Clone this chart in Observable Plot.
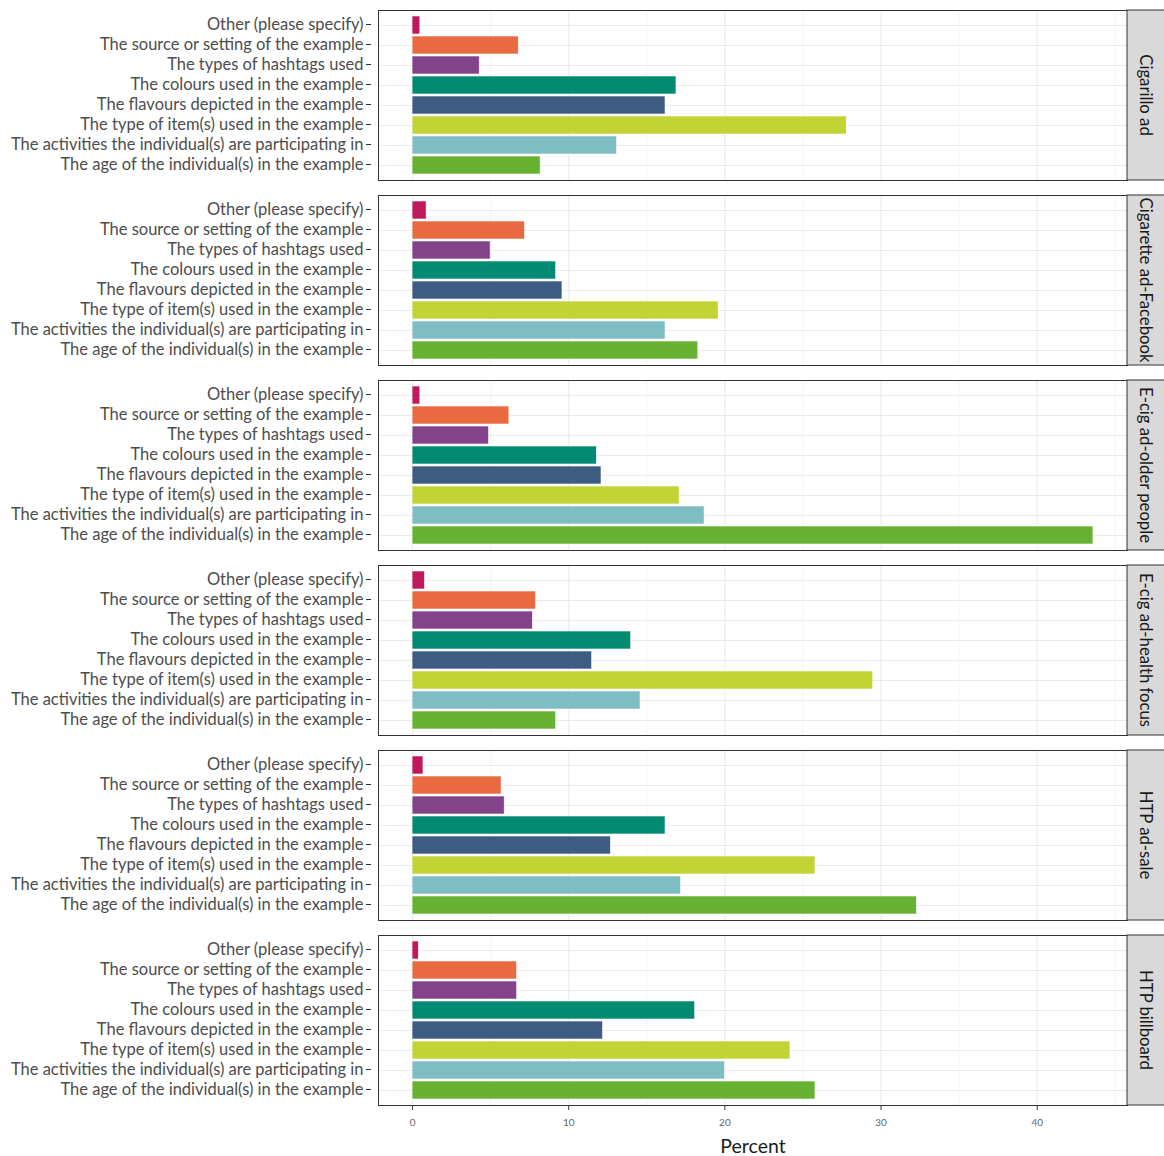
<!DOCTYPE html>
<html>
<head>
<meta charset="utf-8">
<script src="https://cdn.jsdelivr.net/npm/d3@7"></script>
<script src="https://cdn.jsdelivr.net/npm/@observablehq/plot@0.6"></script>
<style>
  body { margin: 0; background: #fff; }
  #chart svg { display: block; }
</style>
</head>
<body>
<div id="chart"></div>
<script>
// Facets (one panel per advertisement), top to bottom
const adTypes = [
  "Cigarillo ad",
  "Cigarette ad-Facebook",
  "E-cig ad-older people",
  "E-cig ad-health focus",
  "HTP ad-sale",
  "HTP billboard"
];

// Features noticed, listed top to bottom within each panel
const features = [
  "Other (please specify)",
  "The source or setting of the example",
  "The types of hashtags used",
  "The colours used in the example",
  "The flavours depicted in the example",
  "The type of item(s) used in the example",
  "The activities the individual(s) are participating in",
  "The age of the individual(s) in the example"
];

const featureColors = [
  "#c0185c", "#e96a40", "#83438b", "#028a72",
  "#3e5c82", "#c2d335", "#7dbdc3", "#67b232"
];

// Percent of respondents per feature, in the order of `features`
const cigarilloAd         = [0.5, 6.8, 4.3, 16.9, 16.2, 27.8, 13.1, 8.2];
const cigaretteAdFacebook = [0.9, 7.2, 5.0, 9.2, 9.6, 19.6, 16.2, 18.3];
const ecigAdOlderPeople   = [0.5, 6.2, 4.9, 11.8, 12.1, 17.1, 18.7, 43.6];
const ecigAdHealthFocus   = [0.8, 7.9, 7.7, 14.0, 11.5, 29.5, 14.6, 9.2];
const htpAdSale           = [0.7, 5.7, 5.9, 16.2, 12.7, 25.8, 17.2, 32.3];
const htpBillboard        = [0.4, 6.7, 6.7, 18.1, 12.2, 24.2, 20.0, 25.8];

const majorTicks = [0, 10, 20, 30, 40];
const minorTicks = [5, 15, 25, 35, 45];

const seriesByAd = [cigarilloAd, cigaretteAdFacebook, ecigAdOlderPeople,
                    ecigAdHealthFocus, htpAdSale, htpBillboard];

const data = adTypes.flatMap((ad, i) =>
  features.map((f, j) => ({adType: ad, feature: f, value: seriesByAd[i][j]}))
);

const xMax = d3.max(data, d => d.value);
const font = "Lato, 'Open Sans', sans-serif";

const width = 1164, height = 1156;
const marginLeft = 378, marginRight = 37, marginTop = 10, marginBottom = 51;

const chart = Plot.plot({
  width, height,
  marginLeft, marginRight, marginTop, marginBottom,
  style: {fontFamily: font, background: "#fff", overflow: "visible"},
  x: {domain: [-0.05 * xMax, 1.05 * xMax], label: null},
  y: {domain: features, paddingInner: 0.1, paddingOuter: 0.15, label: null},
  fy: {domain: adTypes, paddingInner: 15 / 185, paddingOuter: 0, axis: null, label: null},
  color: {domain: features, range: featureColors},
  marks: [
    Plot.gridX(minorTicks, {stroke: "#ebebeb", strokeOpacity: 1, strokeWidth: 0.6}),
    Plot.gridX(majorTicks, {stroke: "#ebebeb", strokeOpacity: 1, strokeWidth: 1.2}),
    Plot.gridY({stroke: "#ebebeb", strokeOpacity: 1, strokeWidth: 1.2}),
    Plot.barX(data, {
      x: "value", y: "feature", fy: "adType",
      fill: "feature", stroke: "#ffffff", strokeWidth: 0.6
    }),
    Plot.frame({stroke: "#333", strokeWidth: 1}),
    Plot.axisY({
      tickSize: 5, tickPadding: 3, dx: -7, dy: -1,
      fontSize: 16.5, fill: "#4d4d4d", stroke: "#333", label: null
    }),
    Plot.axisX(majorTicks, {
      tickSize: 5, tickPadding: 8,
      fontSize: 10, fill: "#666", stroke: "#333", label: null
    }),
    Plot.text([{adType: "HTP billboard"}], {
      fy: "adType", text: () => "Percent", frameAnchor: "bottom",
      dy: 47, fontSize: 19.5, fill: "#1a1a1a"
    })
  ]
});

// Grey strip with the panel name on the right-hand side of each facet
const fy = chart.scale("fy");
const band = d3.scaleBand(fy.domain, fy.range)
  .paddingInner(fy.paddingInner ?? 0)
  .paddingOuter(fy.paddingOuter ?? 0);
const svg = d3.select(chart.tagName.toLowerCase() === "svg" ? chart : chart.querySelector("svg"));
const strips = svg.append("g").attr("class", "strips");
for (const ad of adTypes) {
  const y0 = band(ad), h = band.bandwidth();
  const x0 = width - marginRight;
  strips.append("rect")
    .attr("x", x0).attr("y", y0)
    .attr("width", marginRight + 2).attr("height", h)
    .attr("fill", "#d9d9d9").attr("stroke", "#333").attr("stroke-width", 1);
  strips.append("text")
    .attr("transform", `translate(${x0 + marginRight / 2},${y0 + h / 2}) rotate(90)`)
    .attr("text-anchor", "middle").attr("dominant-baseline", "central")
    .attr("font-family", font).attr("font-size", 16.7).attr("fill", "#1a1a1a")
    .text(ad);
}

document.getElementById("chart").append(chart);
</script>
</body>
</html>
